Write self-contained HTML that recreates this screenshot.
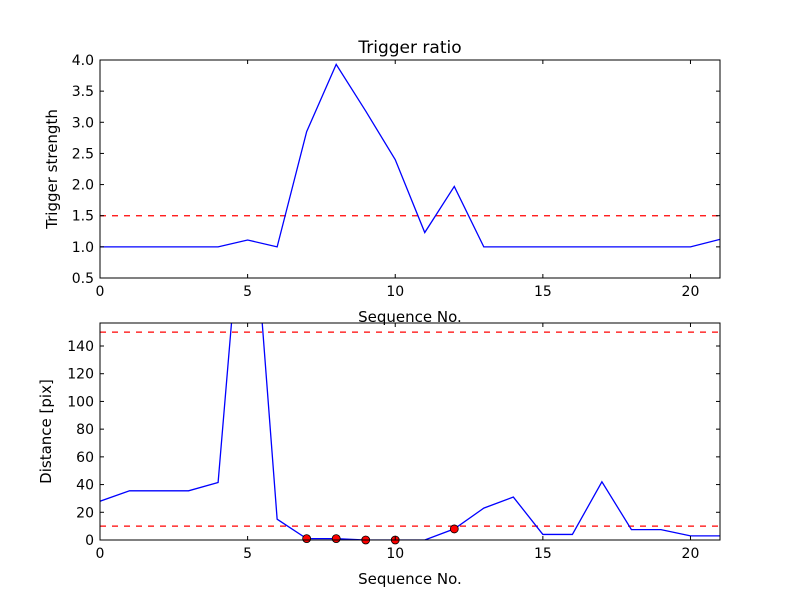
<!DOCTYPE html>
<html><head><meta charset="utf-8"><style>body{margin:0;background:#fff}svg{display:block;font-family:"DejaVu Sans","Liberation Sans",sans-serif}</style></head>
<body>
<svg id="c" width="800" height="600"></svg>
<script>
const seq = [0,1,2,3,4,5,6,7,8,9,10,11,12,13,14,15,16,17,18,19,20,21];
const strength = [1.0,1.0,1.0,1.0,1.0,1.11,1.0,2.85,3.93,3.18,2.4,1.23,1.97,1.0,1.0,1.0,1.0,1.0,1.0,1.0,1.0,1.12];
const distance = [28,35.5,35.5,35.5,41.5,295,15,1,1,0,0,0,8,23,31,4,4,42,7.5,7.5,3,3];
const markIdx = [7,8,9,10,12];
const xTicks = [0,5,10,15,20];
const topTicks = ["0.5","1.0","1.5","2.0","2.5","3.0","3.5","4.0"];
const botTicks = [0,20,40,60,80,100,120,140];
const topThresh = [1.5];
const botThresh = [150,10];

const NS="http://www.w3.org/2000/svg", svg=document.getElementById('c');
function mk(t,a,p){const e=document.createElementNS(NS,t);for(const k in a)e.setAttribute(k,a[k]);(p||svg).appendChild(e);return e;}
function panel(name,L,T,R,B,ymin,ymax,vals,yt,ylab,title,thr,dots){
  const g=mk('g',{});
  
  
  const sx=v=>L+(v-0)/(21-0)*(R-L), sy=v=>B-(v-ymin)/(ymax-ymin)*(B-T);
  const defs=mk('defs',{},g);const cp=mk('clipPath',{id:name+'-clip'},defs);mk('rect',{x:L,y:T,width:R-L,height:B-T},cp);
  thr.forEach(t=>{const l=mk('line',{x1:L,x2:R,y1:sy(t),y2:sy(t),stroke:'#f00','stroke-width':1.3,'stroke-dasharray':'6,6'},g);
    });
  const pl=mk('polyline',{points:seq.map((s,i)=>sx(s)+','+sy(vals[i])).join(' '),fill:'none',stroke:'#00f','stroke-width':1.3,'clip-path':'url(#'+name+'-clip)'},g);
  
  if(dots)dots.forEach(i=>{const c=mk('circle',{cx:sx(seq[i]),cy:sy(vals[i]),r:4,fill:'#f00',stroke:'#000','stroke-width':0.8},g);
    });
  mk('rect',{x:L,y:T,width:R-L,height:B-T,fill:'none',stroke:'#000','stroke-width':1},g);
  xTicks.forEach(t=>{const x=sx(t);mk('line',{x1:x,x2:x,y1:B,y2:B-4,stroke:'#000'},g);mk('line',{x1:x,x2:x,y1:T,y2:T+4,stroke:'#000'},g);
    const tx=mk('text',{x:x,y:B+18,'text-anchor':'middle','font-size':14},g);tx.textContent=t;
    });
  yt.forEach(t=>{const y=sy(parseFloat(t));mk('line',{x1:L,x2:L+4,y1:y,y2:y,stroke:'#000'},g);mk('line',{x1:R,x2:R-4,y1:y,y2:y,stroke:'#000'},g);
    const tx=mk('text',{x:L-6,y:y+5,'text-anchor':'end','font-size':14},g);tx.textContent=t;
    });
  const xl=mk('text',{x:(L+R)/2,y:B+44,'text-anchor':'middle','font-size':15},g);xl.textContent='Sequence No.';
  
  const cy=(T+B)/2, cx=name==='top-panel'?57:51;
  const yl=mk('text',{x:cx,y:cy,'text-anchor':'middle','font-size':15,transform:'rotate(-90 '+cx+' '+cy+')'},g);yl.textContent=ylab;
  
  if(title){const tt=mk('text',{x:(L+R)/2,y:T-7,'text-anchor':'middle','font-size':17},g);tt.textContent=title;
    }
}
panel('top-panel',100,60,720,278,0.5,4.0,strength,topTicks,'Trigger strength','Trigger ratio',topThresh,null);
panel('bottom-panel',100,323,720,540,0,156.6,distance,botTicks.map(String),'Distance [pix]',null,botThresh,markIdx);
</script>
</body></html>
